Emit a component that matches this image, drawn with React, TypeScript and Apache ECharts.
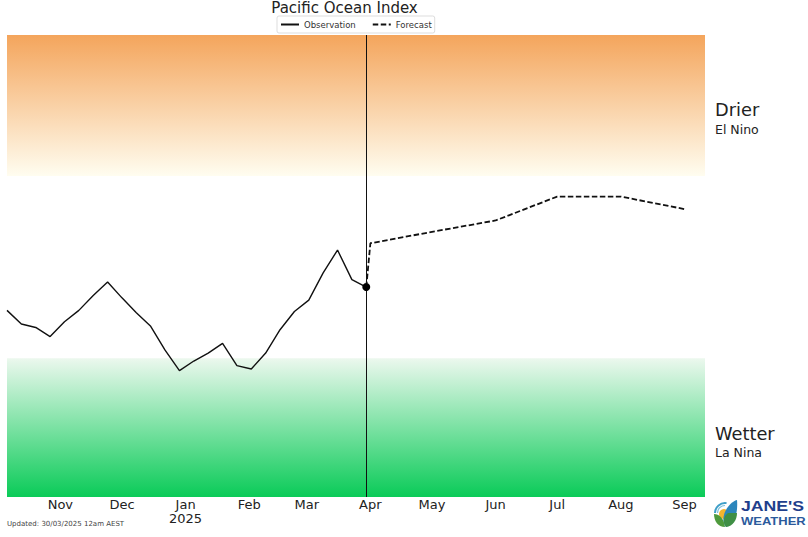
import React, { useEffect, useRef } from "react";
import * as echarts from "echarts";

const title = "Pacific Ocean Index";
const updatedNote = "Updated: 30/03/2025 12am AEST";
const observationDates = ["2024-10-06","2024-10-13","2024-10-20","2024-10-27","2024-11-03","2024-11-10","2024-11-17","2024-11-24","2024-12-01","2024-12-08","2024-12-15","2024-12-22","2024-12-29","2025-01-05","2025-01-12","2025-01-19","2025-01-26","2025-02-02","2025-02-09","2025-02-16","2025-02-23","2025-03-02","2025-03-09","2025-03-16","2025-03-23","2025-03-30"];
const observationValues = [-0.39,-0.51,-0.54,-0.62,-0.49,-0.39,-0.26,-0.14,-0.28,-0.41,-0.53,-0.74,-0.92,-0.835,-0.765,-0.68,-0.875,-0.905,-0.765,-0.56,-0.40,-0.30,-0.06,0.14,-0.12,-0.185];
const forecastDates = ["2025-03-30","2025-04-01","2025-05-01","2025-06-01","2025-07-01","2025-08-01","2025-09-01"];
const forecastValues = [-0.185,0.20,0.30,0.40,0.61,0.61,0.50];
const tickDates = ["2024-11-01","2024-12-01","2025-01-01","2025-02-01","2025-03-01","2025-04-01","2025-05-01","2025-06-01","2025-07-01","2025-08-01","2025-09-01"];
const tickLabels = ["Nov","Dec","Jan\n2025","Feb","Mar","Apr","May","Jun","Jul","Aug","Sep"];
const xStart = "2024-10-06";
const xEnd = "2025-09-11";
const nowDate = "2025-03-30";
const nowValue = -0.185;
const yMin = -2.03;
const yMax = 2.03;
const upperThreshold = 0.79;
const lowerThreshold = -0.81;

const ts = (d: string) => Date.parse(d + "T00:00:00Z");
const FONT = "DejaVu Sans";

echarts.graphic.registerShape("logoLeaf", echarts.graphic.extendPath("M726 527 C719 519 727 503 737 500 C738 510 736 523 726 527 Z", {}) as any);
echarts.graphic.registerShape("logoHill", echarts.graphic.extendPath("M725 527 C718 527 714 521 714 514 C719 514 724 518 725 527 Z", {}) as any);
echarts.graphic.registerShape("logoGround", echarts.graphic.extendPath("M726 527 C722 521 724 516 728 513 L737 513 C737 520 733 526 726 527 Z", {}) as any);

export default function App() {
  const ref = useRef<HTMLDivElement>(null);
  useEffect(() => {
    const chart = echarts.init(ref.current!, undefined, { renderer: "svg" });
    const lookup = new Map(tickDates.map((d, i) => [ts(d), tickLabels[i]]));
    const vGrad = (top: string, bottom: string) =>
      new echarts.graphic.LinearGradient(0, 0, 0, 1, [
        { offset: 0, color: top },
        { offset: 1, color: bottom },
      ]);
    chart.setOption({
      animation: false,
      backgroundColor: "#ffffff",
      textStyle: { fontFamily: FONT },
      title: {
        text: title,
        left: 344.5,
        top: 0,
        padding: 0,
        textAlign: "center",
        textStyle: { fontFamily: FONT, fontSize: 15, lineHeight: 15, fontWeight: "normal", color: "#222" },
      },
      legend: {
        data: [{ name: "Observation" }, { name: "Forecast" }],
        left: 277,
        top: 16,
        padding: [4, 3, 4, 3],
        itemGap: 16,
        itemWidth: 18,
        itemHeight: 8,
        itemStyle: { color: "rgba(0,0,0,0)", borderWidth: 0 },
        borderColor: "#dddddd",
        borderWidth: 1,
        borderRadius: 2,
        textStyle: { fontFamily: FONT, fontSize: 8.5, color: "#333" },
      },
      grid: { left: 7, right: 103, top: 35, bottom: 40 },
      xAxis: {
        type: "value",
        min: ts(xStart),
        max: ts(xEnd),
        splitLine: { show: false },
        axisLine: { show: false },
        axisTick: { show: false },
        axisLabel: {
          customValues: tickDates.map(ts),
          formatter: (v: number) => lookup.get(v) ?? "",
          fontFamily: FONT,
          fontSize: 13,
          lineHeight: 14,
          color: "#222",
          margin: 0.5,
          hideOverlap: false,
        },
      },
      yAxis: { type: "value", min: yMin, max: yMax, show: false, splitLine: { show: false } },
      series: [
        {
          name: "Observation",
          type: "line",
          z: 5,
          symbol: "none",
          data: observationDates.map((d, i) => [ts(d), observationValues[i]]),
          lineStyle: { color: "#111", width: 1.4 },
          itemStyle: { color: "#111" },
          markArea: {
            silent: true,
            z: 1,
            data: [
              [{ yAxis: upperThreshold, itemStyle: { color: vGrad("#F4A55C", "#FFFDF0") } }, { yAxis: yMax }],
              [{ yAxis: yMin, itemStyle: { color: vGrad("#ECF8EE", "#0ACB58") } }, { yAxis: lowerThreshold }],
            ],
          },
          markLine: {
            silent: true,
            symbol: "none",
            label: { show: false },
            lineStyle: { color: "#111", width: 1, type: "solid" },
            data: [{ xAxis: ts(nowDate) }],
          },
        },
        {
          name: "Forecast",
          type: "line",
          z: 5,
          symbol: "none",
          data: forecastDates.map((d, i) => [ts(d), forecastValues[i]]),
          lineStyle: { color: "#111", width: 1.8, type: [5.5, 2.5] },
          itemStyle: { color: "#111" },
        },
        {
          name: "Latest",
          type: "scatter",
          z: 6,
          symbolSize: 8,
          data: [[ts(nowDate), nowValue]],
          itemStyle: { color: "#000", opacity: 1 },
        },
      ],
      graphic: [
        { type: "text", x: 715, y: 100, style: { text: "Drier", fontFamily: FONT, fontSize: 17.8, fill: "#222" } },
        { type: "text", x: 715, y: 122.5, style: { text: "El Nino", fontFamily: FONT, fontSize: 12.5, fill: "#222" } },
        { type: "text", x: 715, y: 424, style: { text: "Wetter", fontFamily: FONT, fontSize: 17.8, fill: "#222" } },
        { type: "text", x: 715, y: 446, style: { text: "La Nina", fontFamily: FONT, fontSize: 12.5, fill: "#222" } },
        { type: "text", x: 7, y: 520, style: { text: updatedNote, fontFamily: FONT, fontSize: 7, fill: "#444" } },
        { type: "arc", shape: { cx: 725, cy: 513, r: 10, startAngle: Math.PI, endAngle: Math.PI * 1.55 }, style: { fill: "none", stroke: "#3f9fc8", lineWidth: 2 } },
        { type: "arc", shape: { cx: 725, cy: 513, r: 7.5, startAngle: Math.PI, endAngle: Math.PI * 1.5 }, style: { fill: "none", stroke: "#7cc0dc", lineWidth: 1.2 } },
        { type: "circle", shape: { cx: 724, cy: 514, r: 5 }, style: { fill: "#F4B52E" } },
        { type: "logoLeaf", style: { fill: "#2C86BC" } },
        { type: "logoGround", style: { fill: "#3F8F45" } },
        { type: "logoHill", style: { fill: "#4E9A3C" } },
        { type: "text", x: 741, y: 497.5, scaleX: 1.14, style: { text: "JANE'S", fontFamily: "Liberation Sans", fontWeight: "bold", fontSize: 15.5, fill: "#1F3F8C" } },
        { type: "text", x: 741, y: 515, scaleX: 1.13, style: { text: "WEATHER", fontFamily: "Liberation Sans", fontWeight: "bold", fontSize: 11.5, fill: "#2B5A9C" } },
      ],
    });
    return () => chart.dispose();
  }, []);
  return <div ref={ref} style={{ position: "absolute", left: 0, top: 0, width: 808, height: 537 }} />;
}
